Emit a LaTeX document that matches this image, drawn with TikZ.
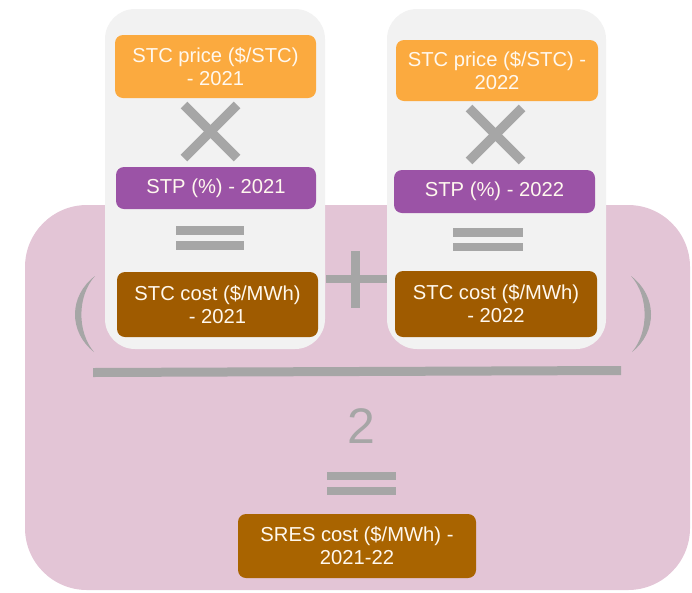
\documentclass[tikz,border=0pt]{standalone}
\usepackage{fontspec}
\setmainfont{Liberation Sans}
\definecolor{pinkbg}{HTML}{E3C5D6}
\definecolor{panelgrey}{HTML}{F2F2F2}
\definecolor{symgrey}{HTML}{A6A6A6}
\definecolor{orangebox}{HTML}{FBAA3F}
\definecolor{purplebox}{HTML}{9B53A6}
\definecolor{brownbox}{HTML}{9F5B00}
\definecolor{brownbottom}{HTML}{A96400}
\definecolor{txt}{HTML}{FFF8EE}
\tikzset{
  box/.style={rounded corners=8pt, inner sep=0pt, align=center, text=txt,
    font=\fontsize{20.2}{23}\selectfont},
  panel/.style={fill=panelgrey, rounded corners=30pt},
  sym/.style={draw=symgrey, line width=9.5pt},
}
\begin{document}
\begin{tikzpicture}[x=1pt,y=-1pt]
\useasboundingbox (0,0) rectangle (692,592);
% pink background
\fill[pinkbg, rounded corners=62pt] (25,205) rectangle (690,590);
% plus sign (behind panels)
\draw[sym, line width=8.5pt] (326,279) -- (388,279);
\draw[sym, line width=8.5pt] (355.5,251) -- (355.5,308);
% grey panels
\fill[panel] (105,9) rectangle (325,349);
\fill[panel] (387,9) rectangle (606,349);
% left column
\node[box, fill=orangebox, minimum width=201pt, minimum height=63pt] (o1) at (215.5,66.5) {STC price (\$/STC)\\- 2021};
\node[box, fill=purplebox, minimum width=200pt, minimum height=42pt] (p1) at (216,188) {STP (\%) - 2021};
\node[box, fill=brownbox, minimum width=201pt, minimum height=65pt] (b1) at (217.5,304.5) {STC cost (\$/MWh)\\- 2021};
% right column
\node[box, fill=orangebox, minimum width=202pt, minimum height=61pt] (o2) at (497,70.5) {STC price (\$/STC) -\\2022};
\node[box, fill=purplebox, minimum width=201pt, minimum height=43pt] (p2) at (494.5,191.5) {STP (\%) - 2022};
\node[box, fill=brownbox, minimum width=202pt, minimum height=66pt] (b2) at (496,304) {STC cost (\$/MWh)\\- 2022};
% times signs
\draw[sym] (184,105) -- (237,158);
\draw[sym] (237,105) -- (184,158);
\draw[sym] (469,108) -- (522,161);
\draw[sym] (522,108) -- (469,161);
% equals signs in panels
\fill[symgrey] (176,226) rectangle (244,235);
\fill[symgrey] (176,241) rectangle (244,250);
\fill[symgrey] (453,228) rectangle (523,237);
\fill[symgrey] (453,243) rectangle (523,251);
% parentheses
\fill[symgrey] (95,276) .. controls (68.5,296) and (68.5,332) .. (94,352)
  .. controls (77,332) and (77,296) .. (95,276) -- cycle;
\fill[symgrey] (631,276) .. controls (657.5,296) and (657.5,332) .. (632,352)
  .. controls (649,332) and (649,296) .. (631,276) -- cycle;
% fraction line
\fill[symgrey] (93,368) -- (621,366) -- (621,375) -- (93,377) -- cycle;
% denominator
\node[text=symgrey, font=\fontsize{50}{56}\selectfont, anchor=base, inner sep=0pt] (two) at (361.5,443.5) {2};
% bottom equals
\fill[symgrey] (327,472) rectangle (396,480);
\fill[symgrey] (327,486.5) rectangle (396,495);
% result
\node[box, fill=brownbottom, minimum width=238pt, minimum height=64pt] (res) at (357,546) {SRES cost (\$/MWh) -\\2021-22};
\end{tikzpicture}
\end{document}
